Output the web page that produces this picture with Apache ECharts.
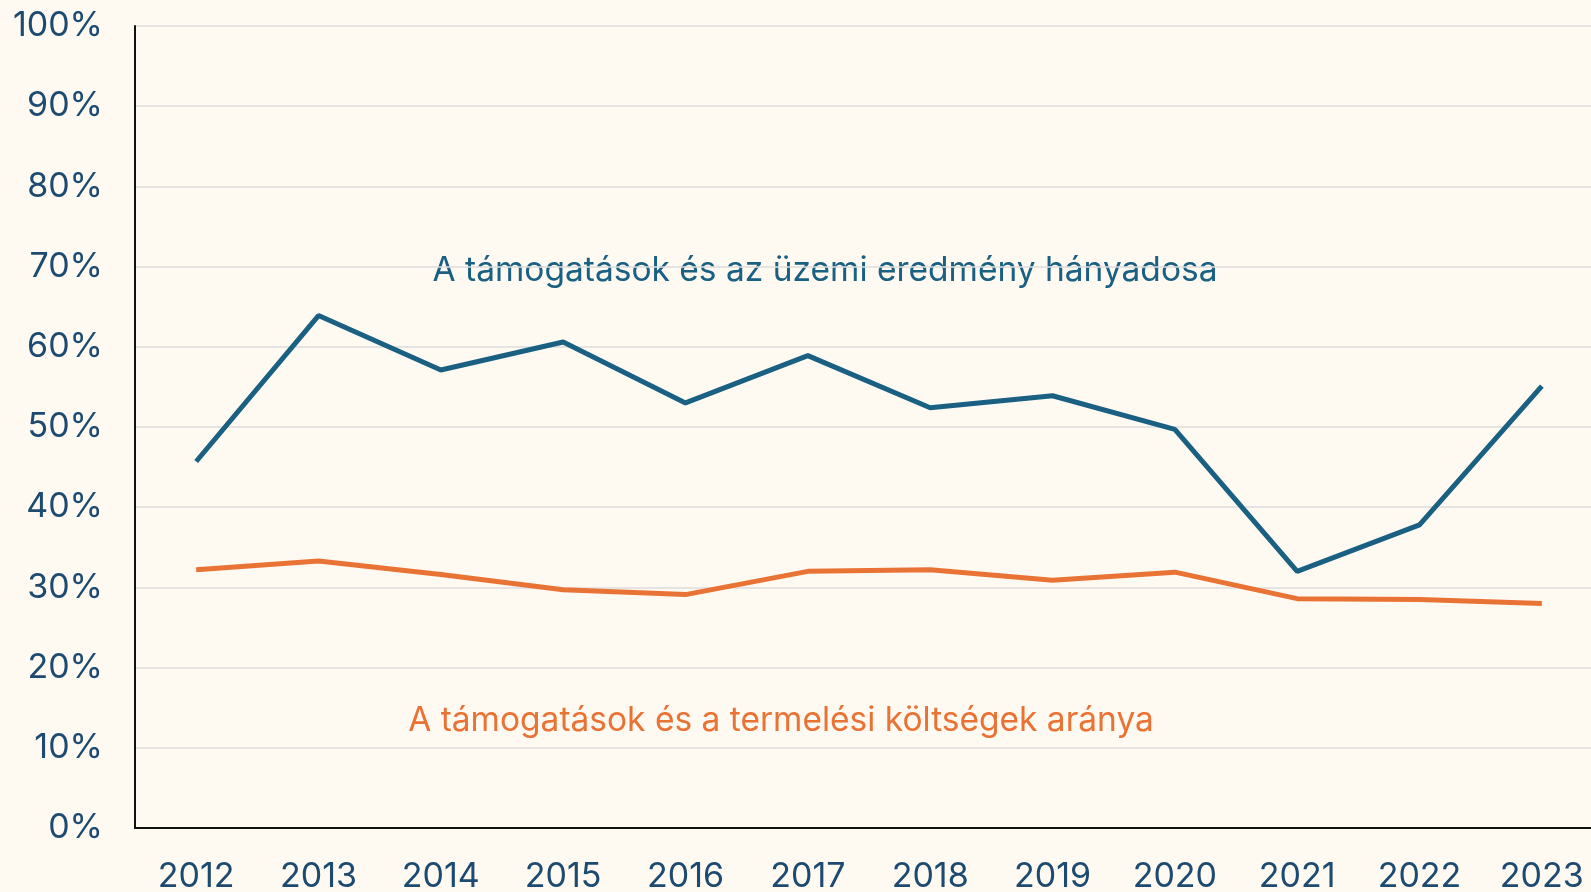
<!DOCTYPE html>
<html>
<head>
<meta charset="utf-8">
<script src="https://cdn.jsdelivr.net/npm/echarts@6/dist/echarts.min.js"></script>
<style>
  html, body { margin: 0; padding: 0; background: #fef9f1; }
  #chart { width: 1591px; height: 892px; }
</style>
</head>
<body>
<div id="chart"></div>
<script>
  // évek
  var years = ['2012', '2013', '2014', '2015', '2016', '2017', '2018', '2019', '2020', '2021', '2022', '2023'];
  // támogatások / üzemi eredmény (%)
  var uzemiEredmeny = [45.7, 63.9, 57.1, 60.6, 53.0, 58.9, 52.4, 53.9, 49.7, 32.0, 37.8, 55.1];
  // támogatások / termelési költségek (%)
  var termelesiKoltseg = [32.2, 33.3, 31.6, 29.7, 29.1, 32.0, 32.2, 30.9, 31.9, 28.6, 28.5, 28.0];
  var yTicks = [0, 10, 20, 30, 40, 50, 60, 70, 80, 90, 100];

  var labelBlue = '#1c4a70';
  var lineBlue = '#1a6083';
  var orange = '#e97335';
  var font = 'Inter';

  var myChart = echarts.init(document.getElementById('chart'));
  var option = {
    backgroundColor: '#fef9f1',
    animation: false,
    grid: {
      left: 135,
      top: 26,
      width: 1468,
      bottom: 64,
      outerBoundsMode: 'none'
    },
    xAxis: {
      type: 'category',
      data: years,
      boundaryGap: true,
      axisLine: { lineStyle: { color: '#111', width: 2 } },
      axisTick: { show: false },
      axisLabel: { color: labelBlue, fontSize: 34, fontFamily: font, margin: 32 }
    },
    yAxis: {
      type: 'value',
      min: yTicks[0],
      max: yTicks[yTicks.length - 1],
      interval: 10,
      axisLine: { show: true, lineStyle: { color: '#111', width: 2 } },
      axisTick: { show: false },
      axisLabel: {
        color: labelBlue, fontSize: 34, fontFamily: font, margin: 32,
        formatter: '{value}%'
      },
      splitLine: { lineStyle: { color: '#dcdcdc', width: 1.5 } }
    },
    series: [
      {
        name: 'A támogatások és az üzemi eredmény hányadosa',
        type: 'line',
        data: uzemiEredmeny,
        symbol: 'none',
        lineStyle: { color: lineBlue, width: 5 },
        itemStyle: { color: lineBlue }
      },
      {
        name: 'A támogatások és a termelési költségek aránya',
        type: 'line',
        data: termelesiKoltseg,
        symbol: 'none',
        lineStyle: { color: orange, width: 5 },
        itemStyle: { color: orange }
      }
    ],
    graphic: [
      {
        type: 'text', x: 825, y: 271,
        style: {
          text: 'A támogatások és az üzemi eredmény hányadosa', fill: lineBlue,
          font: '33.5px Inter', align: 'center', verticalAlign: 'middle'
        }
      },
      {
        type: 'text', x: 781, y: 721,
        style: {
          text: 'A támogatások és a termelési költségek aránya', fill: orange,
          font: '33.5px Inter', align: 'center', verticalAlign: 'middle'
        }
      }
    ]
  };
  myChart.clear();
  myChart.setOption(option);
</script>
</body>
</html>
